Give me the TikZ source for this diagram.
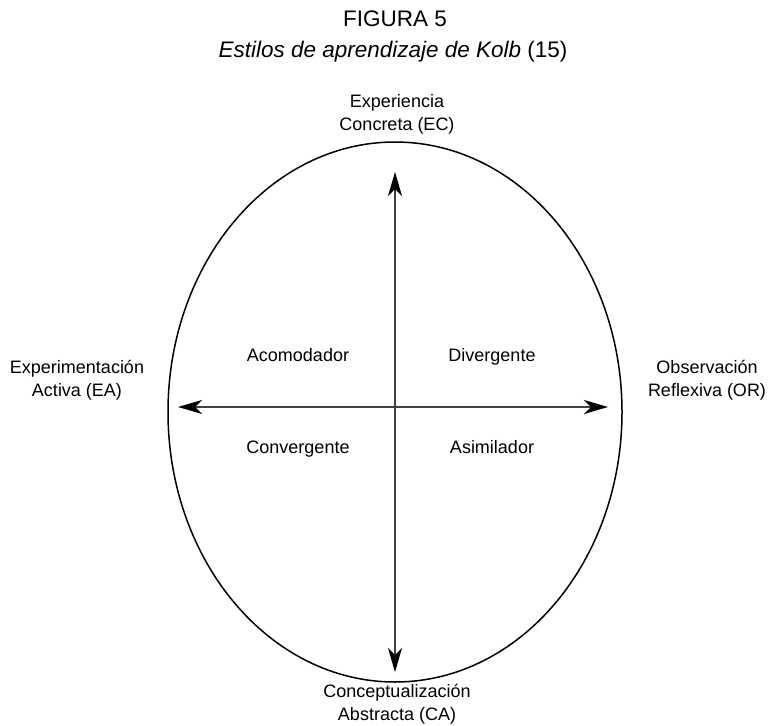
\documentclass[tikz,border=0pt]{standalone}
\usepackage{fontspec}
\setmainfont{Liberation Sans}
\usetikzlibrary{arrows.meta,shapes.geometric}
\begin{document}
\begin{tikzpicture}[x=1pt,y=-1pt,
  lbl/.style={font=\fontsize{18}{23}\selectfont, align=center, inner sep=0pt},
  quad/.style={font=\fontsize{18}{23}\selectfont, inner sep=0pt, anchor=base},
  ttl/.style={font=\fontsize{22.5}{26}\selectfont, inner sep=0pt},
  axis/.style={line width=1.2pt, draw=black!75, {Stealth[length=24pt,width=14pt,inset=7pt,color=black]}-{Stealth[length=24pt,width=14pt,inset=7pt,color=black]}}]
\useasboundingbox (0,0) rectangle (775,725);
\node[ttl] (fig) at (395,19) {FIGURA 5};
\node[ttl] (sub) at (393,52) {\textit{Estilos de aprendizaje de Kolb} (15)};
\node[draw, line width=1.5pt, ellipse, minimum width=454pt, minimum height=540pt, inner sep=0pt] (el) at (395,412) {};
\coordinate (top) at (395,172);
\coordinate (bot) at (395,672);
\coordinate (lft) at (178,407);
\coordinate (rgt) at (608,407);
\draw[axis] (top) -- (bot);
\draw[axis] (lft) -- (rgt);
\node[lbl] (ec) at (397,114) {Experiencia\\Concreta (EC)};
\node[lbl] (ca) at (397,704) {Conceptualización\\Abstracta (CA)};
\node[lbl] (ea) at (77,380) {Experimentación\\Activa (EA)};
\node[lbl] (or) at (707,380) {Observación\\Reflexiva (OR)};
\node[quad] (acom) at (298,361) {Acomodador};
\node[quad] (div) at (492,361) {Divergente};
\node[quad] (conv) at (298,453) {Convergente};
\node[quad] (asim) at (492,453) {Asimilador};
\end{tikzpicture}
\end{document}
